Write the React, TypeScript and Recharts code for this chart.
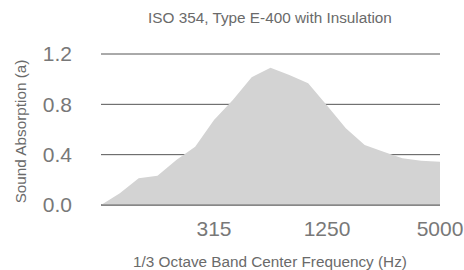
import React from 'react';
import { AreaChart, Area, XAxis, YAxis, CartesianGrid, ReferenceLine } from 'recharts';

const frequencies = ['80','100','125','160','200','250','315','400','500','630','800','1000','1250','1600','2000','2500','3150','4000','5000'];
const absorption = [0.0,0.093,0.212,0.233,0.358,0.463,0.676,0.835,1.015,1.09,1.033,0.967,0.79,0.61,0.477,0.424,0.371,0.352,0.344];
const xTicks = ['315','1250','5000'];
const yTicks = [0, 0.4, 0.8, 1.2];

const data = frequencies.map((f, i) => ({ freq: f, value: absorption[i] }));

const FONT = '"Liberation Sans", Arial, Helvetica, sans-serif';

export default function App() {
  return (
    <div style={{ position: 'absolute', left: 0, top: 0, width: 464, height: 270, background: '#fff', fontFamily: FONT }}>
      <AreaChart width={464} height={270} data={data} margin={{ top: 54, right: 24, left: 0, bottom: 0 }}>
        <CartesianGrid horizontal vertical={false} stroke="#555" strokeWidth={1} />
        <XAxis
          dataKey="freq"
          ticks={xTicks}
          interval={0}
          axisLine={false}
          tickLine={false}
          tickSize={0}
          tickMargin={16}
          height={65}
          tick={{ fill: '#787878', fontSize: 21, fontFamily: FONT }}
        />
        <YAxis
          domain={[0, 1.2]}
          ticks={yTicks}
          width={101}
          axisLine={false}
          tickLine={false}
          tickSize={0}
          tickMargin={29}
          tickFormatter={(v: number) => v.toFixed(1)}
          tick={{ fill: '#787878', fontSize: 21, fontFamily: FONT }}
        />
        <Area type="linear" dataKey="value" fill="#d3d3d3" fillOpacity={1} stroke="none" isAnimationActive={false} />
        <ReferenceLine y={0} stroke="#666" strokeWidth={1} />
      </AreaChart>
      <div style={{ position: 'absolute', left: 0, width: 540, top: 9, textAlign: 'center', fontSize: 15.3, color: '#6a6a6a', lineHeight: '17px' }}>
        ISO 354, Type E-400 with Insulation
      </div>
      <div style={{ position: 'absolute', left: 0, width: 540, top: 253, textAlign: 'center', fontSize: 15.3, color: '#6a6a6a', lineHeight: '17px' }}>
        1/3 Octave Band Center Frequency (Hz)
      </div>
      <div style={{ position: 'absolute', left: 19.5, top: 131.5, width: 0, height: 0 }}>
        <div style={{ position: 'absolute', left: -100, top: -8.5, width: 200, height: 17, lineHeight: '17px', textAlign: 'center', fontSize: 15.3, color: '#6a6a6a', transform: 'rotate(-90deg)', whiteSpace: 'nowrap' }}>
          Sound Absorption (a)
        </div>
      </div>
    </div>
  );
}
